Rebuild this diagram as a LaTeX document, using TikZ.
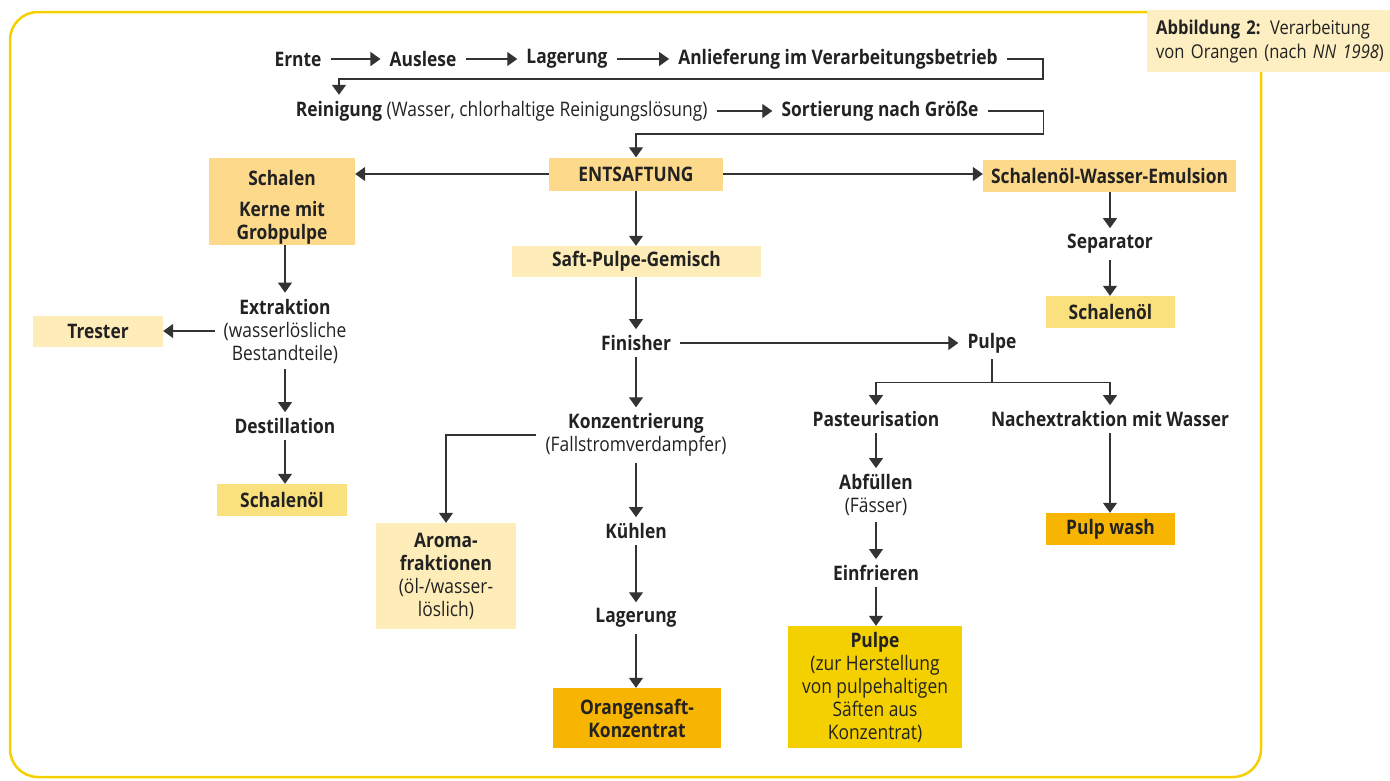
\documentclass[tikz,border=0pt]{standalone}
\usepackage{fontspec}
\setmainfont{Open Sans}[FakeStretch=0.87]
\usetikzlibrary{arrows.meta}
\definecolor{frameY}{HTML}{F5CF00}
\definecolor{orangeL}{HTML}{FDD98B}
\definecolor{lightY}{HTML}{FEEDB8}
\definecolor{yelL}{HTML}{FBE17D}
\definecolor{goldY}{HTML}{F5D000}
\definecolor{orangeD}{HTML}{F7B400}
\definecolor{capfill}{HTML}{FEEFC2}
\definecolor{ink}{HTML}{222222}
\definecolor{wire}{HTML}{333333}
\newcommand\myfs{\fontsize{20}{23}\selectfont}
\begin{document}
\begin{tikzpicture}[x=1pt,y=-1pt,
  font=\myfs, text=ink,
  bf/.style={font=\myfs\bfseries},
  lbl/.style={inner xsep=9, inner ysep=6, align=center},
  box/.style={inner sep=0, align=center},
  conn/.style={draw=wire, line width=1.3},
  arr/.style={conn, -{Triangle[width=14pt,length=10pt]}},
]
\useasboundingbox (0,0) rectangle (1390,780);
% frame
\draw[frameY, line width=2.5, rounded corners=28] (10,12) rectangle (1261,777);
% caption
\node[fill=capfill, anchor=north west, minimum width=243, minimum height=62,
      text width=236, inner xsep=9, inner ysep=0, align=left,
      font=\fontsize{19}{24}\selectfont] (cap) at (1147,10)
  {\textbf{Abbildung 2:} Verarbeitung\\von Orangen (nach \textit{NN 1998})};

% row 1
\node[lbl,bf] (ernte) at (298,59) {Ernte};
\node[lbl,bf] (ausl) at (423,59) {Auslese};
\node[lbl,bf] (lag1) at (567,59) {Lagerung};
\node[lbl,bf] (anl) at (838,59) {Anlieferung im Verarbeitungsbetrieb};
% row 2
\node[bf, inner xsep=0, inner ysep=6] (rein) at (339,111) {Reinigung};
\node[anchor=base west, inner xsep=9, inner ysep=0] (reinp) at ([xshift=-5]rein.base east) {(Wasser, chlorhaltige Reinigungslösung)};
\node[lbl,bf] (sort) at (880,111) {Sortierung nach Größe};

% boxes
\node[box,bf,fill=orangeL, minimum width=174, minimum height=33] (ent) at (636,174) {ENTSAFTUNG};
\node[box,bf,fill=orangeL, minimum width=146, minimum height=87] (schalen) at (282,201.5) {\rule{0pt}{26pt}Schalen\\[8pt]Kerne mit\\Grobpulpe};
\node[box,bf,fill=orangeL, minimum width=253, minimum height=32] (emul) at (1109.5,176) {Schalenöl-Wasser-Emulsion};
\node[box,bf,fill=lightY, minimum width=249, minimum height=31] (saft) at (636.5,261.5) {Saft-Pulpe-Gemisch};
\node[box,bf,fill=yelL, minimum width=129, minimum height=32] (schoelR) at (1110.5,312) {Schalenöl};
\node[box,bf,fill=lightY, minimum width=130, minimum height=31] (trester) at (98,331.5) {Trester};
\node[box,bf,fill=yelL, minimum width=130, minimum height=32] (schoelL) at (282,500) {Schalenöl};
\node[box,fill=lightY, minimum width=140, minimum height=106] (aroma) at (446,576) {\textbf{Aroma-}\\\textbf{fraktionen}\\(öl-/wasser-\\löslich)};
\node[box,bf,fill=orangeD, minimum width=168, minimum height=60] (oskonz) at (637,718) {Orangensaft-\\Konzentrat};
\node[box,fill=goldY, minimum width=174, minimum height=122] (pulpebox) at (875,687) {\textbf{Pulpe}\\(zur Herstellung\\von pulpehaltigen\\Säften aus\\Konzentrat)};
\node[box,bf,fill=orangeD, minimum width=129, minimum height=32] (pulpwash) at (1110.5,529) {Pulp wash};

% text steps
\node[lbl,bf] (sep) at (1110,244) {Separator};
\node[lbl,bf] (fin) at (636,343) {Finisher};
\node[lbl,bf] (pulpe) at (992,343) {Pulpe};
\node[lbl,bf] (past) at (876,419) {Pasteurisation};
\node[lbl,bf] (nach) at (1110,419) {Nachextraktion mit Wasser};
\node[lbl] (abf) at (876,495) {\textbf{Abfüllen}\\(Fässer)};
\node[lbl,bf] (einf) at (876,573) {Einfrieren};
\node[lbl] (konz) at (636,435) {\textbf{Konzentrierung}\\(Fallstromverdampfer)};
\node[lbl,bf] (kuehl) at (636,531) {Kühlen};
\node[lbl,bf] (lag2) at (636,618) {Lagerung};
\node[lbl] (extr) at (285,331) {\textbf{Extraktion}\\(wasserlösliche\\Bestandteile)};
\node[lbl,bf] (dest) at (285,426) {Destillation};

% connectors
\draw[arr] (ernte) -- (ausl);
\draw[arr] (ausl) -- (lag1);
\draw[arr] (lag1) -- (anl);
\draw[arr] (anl.east) -- ++(36,0) -- ++(0,20) -| (rein.north);
\draw[arr] (reinp.east) -- (sort.west);
\draw[arr] (sort.east) -- ++(56,0) -- ++(0,23) -| (ent.north);
\draw[arr] (ent.west) -- (schalen.east |- ent.west);
\draw[arr] (ent.east) -- (emul.west |- ent.east);
\draw[arr] (ent.south) -- (saft.north -| ent.south);
\draw[arr] (emul.south -| sep.north) -- (sep.north);
\draw[arr] (sep.south) -- (schoelR.north -| sep.south);
\draw[arr] (saft.south -| fin.north) -- (fin.north);
\draw[arr] (fin.east) -- (pulpe.west);
\draw[conn] (pulpe.south) -- ++(0,23) coordinate (pj);
\draw[arr] (pj) -| (past.north);
\draw[arr] (pj) -| (nach.north);
\draw[arr] (past.south) -- (abf.north);
\draw[arr] (abf.south) -- (einf.north);
\draw[arr] (einf.south) -- (pulpebox.north -| einf.south);
\draw[arr] (nach.south) -- (pulpwash.north -| nach.south);
\draw[arr] (fin.south) -- (konz.north);
\draw[arr] (konz.west) -| (aroma.north);
\draw[arr] (konz.south) -- (kuehl.north);
\draw[arr] (kuehl.south) -- (lag2.north);
\draw[arr] (lag2.south) -- (oskonz.north -| lag2.south);
\draw[arr] (schalen.south -| extr.north) -- (extr.north);
\draw[arr] (extr.west) -- (trester.east |- extr.west);
\draw[arr] (extr.south) -- (dest.north);
\draw[arr] (dest.south) -- (schoelL.north -| dest.south);
\end{tikzpicture}
\end{document}
